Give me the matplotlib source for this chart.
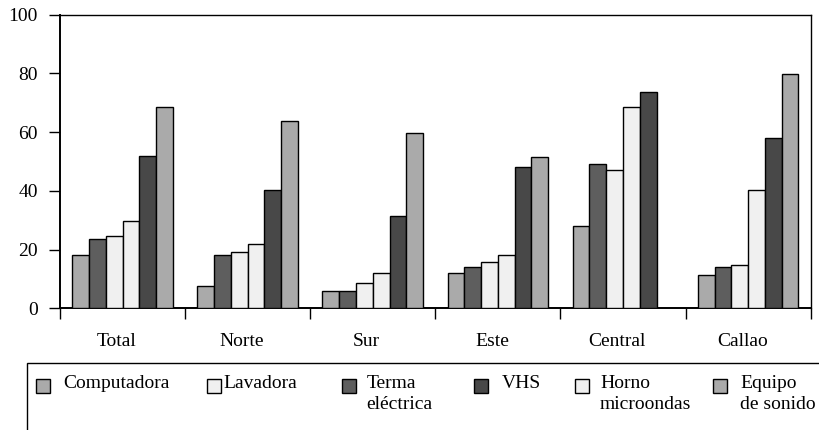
import numpy as np
import matplotlib
matplotlib.use("Agg")
import matplotlib.pyplot as plt
from matplotlib.patches import Rectangle
from matplotlib.transforms import ScaledTranslation

plt.rcParams['font.family'] = ['Liberation Serif', 'DejaVu Serif']

regions = ['Total', 'Norte', 'Sur', 'Este', 'Central', 'Callao']

# bar order inside each group (as drawn in the picture)
computadora = [18.2, 7.7, 6.0, 12.1, 28.0, 11.2]
terma = [23.6, 18.2, 6.0, 13.9, 49.0, 13.9]
lavadora = [24.5, 19.1, 8.6, 15.6, 47.1, 14.7]
horno = [29.8, 21.9, 12.1, 18.2, 68.4, 40.2]
vhs = [51.8, 40.2, 31.4, 48.2, 73.7, 57.9]
equipo = [68.4, 63.9, 59.6, 51.7, 0.0, 79.7]

series = [
    ('Computadora', computadora, '#aaaaaa'),
    ('Terma\neléctrica', terma, '#5e5e5e'),
    ('Lavadora', lavadora, '#f0f0f0'),
    ('Horno\nmicroondas', horno, '#f0f0f0'),
    ('VHS', vhs, '#484848'),
    ('Equipo\nde sonido', equipo, '#aaaaaa'),
]
legend_order = ['Computadora', 'Lavadora', 'Terma\neléctrica', 'VHS',
                'Horno\nmicroondas', 'Equipo\nde sonido']

W, H = 819, 430
FS = 14
fig = plt.figure(figsize=(W / 100, H / 100), dpi=100)
ax = fig.add_axes([60 / W, 1 - 308.3 / H, (810.7 - 60) / W, (308.3 - 14.7) / H])

x = np.arange(len(regions))
bw = 0.134
start = 0.5 - 3 * bw
colors = {}
for i, (name, vals, col) in enumerate(series):
    colors[name] = col
    v = np.array(vals)
    keep = v > 0
    ax.bar(x[keep] + start + (i + 0.5) * bw, v[keep], width=bw, color=col,
           edgecolor='black', linewidth=1.0, zorder=3)

ax.set_xlim(0, len(regions))
ax.set_ylim(0, 100)
ax.set_yticks([0, 20, 40, 60, 80, 100])
ax.set_xticks(np.arange(len(regions) + 1))
ax.set_xticklabels([])
ax.set_xticks(x + 0.5, minor=True)
ax.set_xticklabels(regions, minor=True)
ax.tick_params(axis='x', which='major', direction='out', length=8, width=1.0)
ax.tick_params(axis='x', which='minor', length=0, pad=18, labelsize=FS)
ax.tick_params(axis='y', direction='out', length=8, width=1.0, pad=8, labelsize=FS)
for lab in ax.get_xticklabels(minor=True):
    lab.set_transform(lab.get_transform() + ScaledTranslation(-0.06, 0, fig.dpi_scale_trans))

ax.spines['left'].set_linewidth(1.4)
ax.spines['bottom'].set_linewidth(1.4)
ax.spines['top'].set_linewidth(1.0)
ax.spines['right'].set_linewidth(1.0)

# legend box below the chart
fig.patches.append(Rectangle((26.7 / W, -0.1), 1.2, 1 - 363.3 / H + 0.1,
                             transform=fig.transFigure, fill=False,
                             edgecolor='black', linewidth=1.0, clip_on=False))
patch_x = [36, 206.7, 341.7, 474, 575, 713.3]
text_x = [63, 223, 366.7, 501.7, 600, 740]
for name, px, tx in zip(legend_order, patch_x, text_x):
    fig.patches.append(Rectangle((px / W, 1 - 392.7 / H), 14 / W, 14 / H,
                                 transform=fig.transFigure, facecolor=colors[name],
                                 edgecolor='black', linewidth=1.0))
    fig.text(tx / W, 1 - 375 / H, name, fontsize=FS, va='top', ha='left',
             linespacing=1.3)

fig.savefig('out.png', dpi=100)
